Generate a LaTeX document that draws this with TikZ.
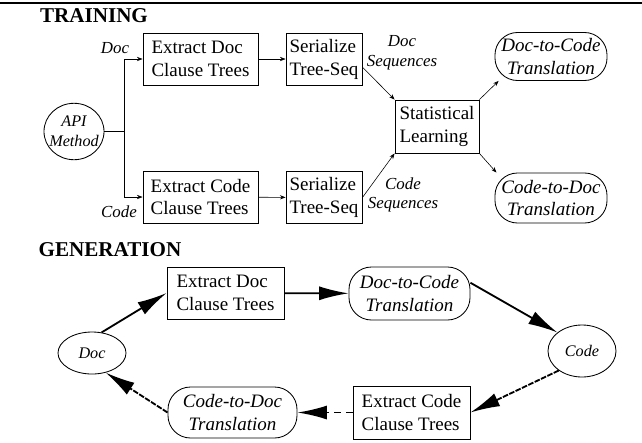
\documentclass[tikz,border=0pt]{standalone}
\usepackage{fontspec}
\setmainfont{Liberation Serif}
\usetikzlibrary{arrows.meta,shapes.geometric}

\begin{document}
\begin{tikzpicture}[x=0.025cm,y=-0.025cm,>={Stealth[length=4pt,width=3pt]},
		box/.style={draw,line width=0.6pt,align=left,inner sep=2pt,font=\fontsize{13.5}{16.3}\selectfont},
		pill/.style={draw,line width=0.6pt,rounded corners=16pt,align=center,inner sep=1pt,font=\fontsize{13.5}{16.3}\selectfont\itshape},
		oval/.style={draw,ellipse,line width=0.6pt,align=center,font=\fontsize{11.5}{14}\selectfont\itshape},
		lbl/.style={align=center,inner sep=0,font=\fontsize{12}{14}\selectfont\itshape},
		ttl/.style={inner sep=0,font=\fontsize{15}{18}\selectfont\bfseries},
		big/.style={line width=1.3pt,-{Latex[length=21pt,width=10pt]}}]
	\useasboundingbox (0,0) rectangle (642,442);
	\draw[line width=1pt] (0,3) -- (642,3);
	% training
	\node[ttl] (train) at (94,16) {TRAINING};
	\node[oval,inner xsep=-4pt,minimum width=1.5cm,minimum height=1.275cm] (api) at (74,131.5) {API\\Method};
	\node[box,minimum width=2.875cm,minimum height=1.3cm] (edoc) at (200.5,59) {Extract Doc\\Clause Trees};
	\node[box,minimum width=2.875cm,minimum height=1.3cm] (ecode) at (200.5,197) {Extract Code\\Clause Trees};
	\node[box,minimum width=1.9cm,minimum height=1.3cm] (ser1) at (324,59) {Serialize\\Tree-Seq};
	\node[box,minimum width=1.9cm,minimum height=1.3cm] (ser2) at (324,197.5) {Serialize\\Tree-Seq};
	\node[box,minimum width=2.1cm,minimum height=1.325cm] (stat) at (437,126.5) {Statistical\\Learning};
	\node[pill,minimum width=2.8cm,minimum height=1.2cm] (d2c) at (551,56.5) {Doc-to-Code\\Translation};
	\node[pill,minimum width=2.8cm,minimum height=1.25cm] (c2d) at (551,198) {Code-to-Doc\\Translation};
	\node[lbl] (ldoc) at (115,48) {Doc};
	\node[lbl] (lcode) at (119,212) {Code};
	\node[lbl] (ldseq) at (402,53) {Doc\\Sequences};
	\node[lbl] (lcseq) at (403,195) {Code\\Sequences};
	\coordinate (fork) at (124,131.5);
	\draw (api.east) -- (fork);
	\draw[->] (fork) |- (edoc.west);
	\draw[->] (fork) |- (ecode.west);
	\draw[->] (edoc) -- (ser1);
	\draw[->] (ecode) -- (ser2);
	\draw[->] (ser1.-12) -- (stat.north west);
	\draw[->] (ser2.east) -- (stat.south west);
	\draw[->] (stat.north east) -- (d2c.205);
	\draw[->] (stat.south east) -- (c2d.155);
	% generation
	\node[ttl] (gen) at (110,250) {GENERATION};
	\node[oval,minimum width=1.7cm,minimum height=1.05cm] (gdoc) at (92,353) {Doc};
	\node[box,minimum width=2.925cm,minimum height=1.3cm] (gedoc) at (225.5,293) {Extract Doc\\Clause Trees};
	\node[pill,minimum width=3.025cm,minimum height=1.325cm] (gd2c) at (409.5,293.5) {Doc-to-Code\\Translation};
	\node[oval,minimum width=1.7cm,minimum height=1.3cm] (gcode) at (582,351) {Code};
	\node[box,minimum width=2.925cm,minimum height=1.325cm] (gecode) at (411.5,412.5) {Extract Code\\Clause Trees};
	\node[pill,minimum width=3.225cm,minimum height=1.275cm] (gc2d) at (232.5,412.5) {Code-to-Doc\\Translation};
	\draw[big] (gdoc.65) -- (gedoc.west);
	\draw[big] (gedoc) -- (gd2c);
	\draw[big] (gd2c.10) -- (gcode.143);
	\draw[big,dash pattern=on 4pt off 1pt] (gcode.220) -- (gecode.east);
	\draw[big,dash pattern=on 5pt off 3.5pt] (gecode) -- (gc2d);
	\draw[big,dash pattern=on 4pt off 1pt] (gc2d.west) -- (gdoc.-55);
\end{tikzpicture}
\end{document}
